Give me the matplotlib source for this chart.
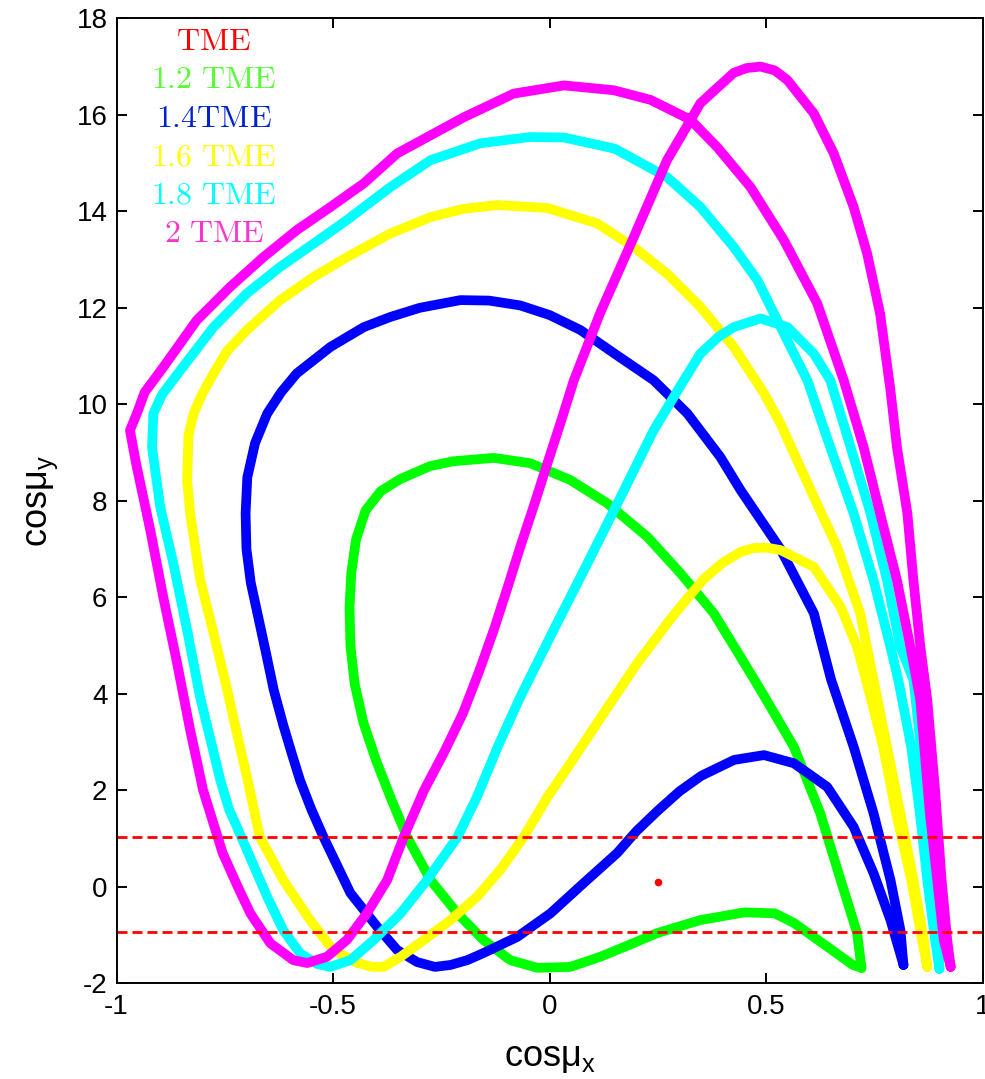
import matplotlib
matplotlib.use('Agg')
import matplotlib.pyplot as plt

plt.rcParams['axes.unicode_minus'] = False
plt.rcParams['font.family'] = ['Liberation Sans', 'DejaVu Sans']
plt.rcParams['mathtext.fontset'] = 'custom'
plt.rcParams['mathtext.rm'] = 'Liberation Sans'
plt.rcParams['mathtext.it'] = 'Liberation Sans'

# ---------------- data ----------------
series_names = ['TME', '1.2 TME', '1.4TME', '1.6 TME', '1.8 TME', '2 TME']
series_colors = ['#ff0000', '#00ff00', '#0000ff', '#ffff00', '#00ffff', '#ff00ff']
label_colors = ['#ff0000', '#55ff33', '#0022cc', '#ffff00', '#00ffff', '#ff33cc']

tme_x = [0.25]
tme_y = [0.106]

g12_x = [0.720, 0.710, 0.672, 0.625, 0.564, 0.487, 0.441, 0.379, 0.302, 0.226, 0.133, 0.048,
         -0.045, -0.129, -0.222, -0.276, -0.345, -0.390, -0.425, -0.447, -0.458, -0.462, -0.460,
         -0.450, -0.430, -0.400, -0.365, -0.329, -0.275, -0.213, -0.153, -0.091, -0.028, 0.048,
         0.117, 0.185, 0.248, 0.348, 0.450, 0.520, 0.564, 0.641, 0.700, 0.720]
g12_y = [-1.68, -0.96, 0.14, 1.52, 2.90, 4.08, 4.76, 5.67, 6.50, 7.25, 7.95, 8.43,
         8.78, 8.89, 8.82, 8.72, 8.45, 8.20, 7.80, 7.20, 6.50, 5.80, 5.00,
         4.20, 3.40, 2.60, 1.80, 1.03, 0.14, -0.55, -1.10, -1.52, -1.68, -1.66,
         -1.45, -1.20, -0.96, -0.69, -0.53, -0.55, -0.75, -1.24, -1.62, -1.68]

b14_x = [0.817, 0.810, 0.787, 0.748, 0.702, 0.650, 0.610, 0.533, 0.441, 0.394, 0.318, 0.240,
         0.150, 0.071, 0.000, -0.068, -0.140, -0.206, -0.300, -0.368, -0.429, -0.506, -0.584,
         -0.620, -0.652, -0.680, -0.698, -0.702, -0.700, -0.690, -0.673, -0.655, -0.637, -0.615,
         -0.595, -0.576, -0.550, -0.522, -0.460, -0.398, -0.352, -0.306, -0.265, -0.229, -0.190,
         -0.152, -0.075, 0.002, 0.079, 0.156, 0.200, 0.250, 0.300, 0.350, 0.426, 0.495, 0.564,
         0.641, 0.702, 0.748, 0.787, 0.817]
b14_y = [-1.62, -0.90, 0.14, 1.52, 2.90, 4.29, 5.67, 7.00, 8.22, 8.91, 9.81, 10.50,
         11.05, 11.54, 11.85, 12.05, 12.15, 12.16, 12.00, 11.81, 11.60, 11.19, 10.64,
         10.25, 9.81, 9.20, 8.49, 7.74, 7.00, 6.30, 5.60, 4.85, 4.08, 3.35,
         2.75, 2.20, 1.60, 1.03, -0.13, -0.83, -1.31, -1.56, -1.66, -1.62, -1.52,
         -1.37, -1.04, -0.55, 0.08, 0.70, 1.15, 1.58, 1.98, 2.30, 2.63, 2.73, 2.56,
         2.07, 1.24, 0.28, -0.69, -1.62]

y16_x = [0.872, 0.864, 0.840, 0.810, 0.779, 0.756, 0.717, 0.664, 0.610, 0.533, 0.495, 0.425,
         0.348, 0.271, 0.194, 0.110, -0.006, -0.121, -0.200, -0.275, -0.368, -0.468, -0.545,
         -0.622, -0.699, -0.745, -0.776, -0.803, -0.822, -0.834, -0.837, -0.830, -0.807,
         -0.776, -0.745, -0.720, -0.697, -0.669, -0.615, -0.553, -0.500, -0.444, -0.410,
         -0.383, -0.344, -0.290, -0.229, -0.167, -0.114, -0.060, -0.005, 0.048, 0.125, 0.202,
         0.279, 0.320, 0.356, 0.400, 0.441, 0.470, 0.500, 0.533, 0.610, 0.672, 0.710, 0.741,
         0.770, 0.800, 0.835, 0.860, 0.872]
y16_y = [-1.66, -1.10, 0.14, 1.52, 2.90, 3.93, 5.67, 7.04, 8.08, 9.60, 10.23, 11.19,
         12.02, 12.71, 13.26, 13.75, 14.07, 14.13, 14.05, 13.88, 13.54, 13.05, 12.64,
         12.16, 11.54, 11.10, 10.64, 10.20, 9.81, 9.35, 8.43, 7.74, 6.37,
         5.26, 4.10, 3.10, 2.20, 1.03, 0.14, -0.69, -1.31, -1.58, -1.66,
         -1.66, -1.45, -1.10, -0.69, -0.20, 0.35, 1.03, 1.86, 2.56, 3.60, 4.63,
         5.55, 6.00, 6.38, 6.72, 6.94, 7.02, 7.03, 6.98, 6.63, 5.80, 4.97, 3.93,
         2.90, 1.52, 0.14, -1.10, -1.66]

c18_x = [0.900, 0.890, 0.872, 0.855, 0.835, 0.805, 0.787, 0.748, 0.702, 0.648, 0.595, 0.564,
         0.518, 0.480, 0.425, 0.348, 0.271, 0.150, 0.033, -0.045, -0.160, -0.275, -0.368,
         -0.468, -0.545, -0.622, -0.699, -0.776, -0.853, -0.895, -0.915, -0.918, -0.899,
         -0.869, -0.837, -0.807, -0.783, -0.760, -0.740, -0.720, -0.691, -0.652, -0.615,
         -0.576, -0.537, -0.507, -0.460, -0.406, -0.344, -0.283, -0.213, -0.168, -0.120, -0.068,
         0.009, 0.087, 0.164, 0.240, 0.310, 0.348, 0.390, 0.425, 0.487, 0.549, 0.610, 0.648,
         0.695, 0.741, 0.779, 0.810, 0.840, 0.857, 0.872, 0.886, 0.898, 0.900]
c18_y = [-1.70, -1.10, 0.14, 1.52, 2.90, 4.29, 4.97, 6.35, 7.74, 9.11, 10.50, 11.05,
         11.88, 12.57, 13.26, 14.09, 14.71, 15.30, 15.53, 15.54, 15.41, 15.06, 14.50,
         13.82, 13.33, 12.85, 12.30, 11.60, 10.70, 10.20, 9.81, 9.11, 7.87,
         6.71, 5.32, 3.93, 3.05, 2.20, 1.60, 1.20, 0.60, -0.21, -0.90,
         -1.38, -1.60, -1.66, -1.52, -1.10, -0.55, 0.14, 1.03, 1.86, 2.90, 3.93,
         5.32, 6.70, 8.08, 9.46, 10.50, 11.05, 11.40, 11.60, 11.78, 11.60, 11.05, 10.50,
         9.11, 7.74, 6.35, 4.97, 4.29, 2.90, 1.52, 0.14, -1.10, -1.70]

m20_x = [0.926, 0.910, 0.895, 0.878, 0.865, 0.856, 0.833, 0.802, 0.763, 0.725, 0.679, 0.618,
         0.541, 0.464, 0.387, 0.325, 0.233, 0.148, 0.033, -0.083, -0.198, -0.352, -0.429,
         -0.506, -0.584, -0.661, -0.738, -0.815, -0.892, -0.935, -0.953, -0.969, -0.955, -0.922,
         -0.892, -0.860, -0.830, -0.800, -0.755, -0.720, -0.691, -0.645, -0.592, -0.560, -0.514,
         -0.468, -0.422, -0.375, -0.337, -0.290, -0.243, -0.200, -0.163, -0.129, -0.098, -0.068,
         -0.036, -0.005, 0.026, 0.056, 0.117, 0.194, 0.271, 0.348, 0.425, 0.455, 0.487, 0.520,
         0.549, 0.610, 0.656, 0.702, 0.733, 0.763, 0.786, 0.802, 0.826, 0.840, 0.856, 0.872,
         0.890, 0.905, 0.918, 0.926]
m20_y = [-1.66, -1.10, 0.14, 1.52, 2.90, 3.87, 4.97, 6.35, 7.74, 9.11, 10.50, 12.09,
         13.40, 14.50, 15.33, 15.90, 16.31, 16.51, 16.61, 16.44, 15.95, 15.20, 14.58,
         14.09, 13.61, 13.05, 12.43, 11.74, 10.77, 10.25, 9.81, 9.46, 8.78, 7.39,
         6.00, 4.63, 3.25, 2.00, 0.70, 0.00, -0.55, -1.17, -1.52, -1.58, -1.45,
         -1.10, -0.55, 0.14, 1.03, 2.00, 2.80, 3.60, 4.46, 5.32, 6.18, 7.04,
         7.91, 8.78, 9.64, 10.50, 11.90, 13.46, 15.06, 16.24, 16.87, 16.97, 17.00, 16.92,
         16.72, 16.03, 15.20, 14.09, 13.13, 11.88, 10.36, 9.11, 7.74, 6.35, 4.97, 3.87,
         2.00, 0.14, -1.10, -1.66]

limit_lines = [1.04, -0.94]
x_ticks = [-1, -0.5, 0, 0.5, 1]
x_tick_labels = ['-1', '-0.5', '0', '0.5', '1']
y_ticks = [-2, 0, 2, 4, 6, 8, 10, 12, 14, 16, 18]

# ---------------- figure ----------------
fig = plt.figure(figsize=(9.85, 10.79), dpi=100)
ax = fig.add_axes([0.1183, 0.0887, 0.8794, 0.8943])

ax.plot(tme_x, tme_y, 'o', color=series_colors[0], ms=5.5, mec='none')
loops = [(g12_x, g12_y), (b14_x, b14_y), (y16_x, y16_y), (c18_x, c18_y), (m20_x, m20_y)]
for (xs, ys), col in zip(loops, series_colors[1:]):
    ax.plot(xs, ys, '-', color=col, lw=7, solid_joinstyle='round', solid_capstyle='round')

for yv in limit_lines:
    ax.axhline(yv, color='#ff0000', lw=2.0, ls=(0, (3.6, 1.8)))

ax.set_xlim(-1, 1)
ax.set_ylim(-2, 18)
ax.set_xticks(x_ticks)
ax.set_xticklabels(x_tick_labels)
ax.set_yticks(y_ticks)
ax.tick_params(direction='in', length=7.5, width=1.4, top=True, right=True,
               labelsize=20, colors='black')
ax.tick_params(axis='x', pad=8)
ax.tick_params(axis='y', pad=6.5)
for s in ax.spines.values():
    s.set_linewidth(1.4)

ax.set_xlabel(r'$cos\mu_x$', fontsize=26, labelpad=14)
ax.set_ylabel(r'$cos\mu_y$', fontsize=26, labelpad=12)

# legend-like coloured labels
label_x = -0.775
label_y0 = 17.34
label_step = 0.794
for i, (name, col) in enumerate(zip(series_names, label_colors)):
    txt = r'$\mathrm{' + name.replace(' ', r'\ ') + '}$'
    ax.text(label_x, label_y0 - i * label_step, txt, ha='center', va='baseline',
            fontsize=23, color=col, math_fontfamily='cm')

fig.savefig('out.png', dpi=100)
